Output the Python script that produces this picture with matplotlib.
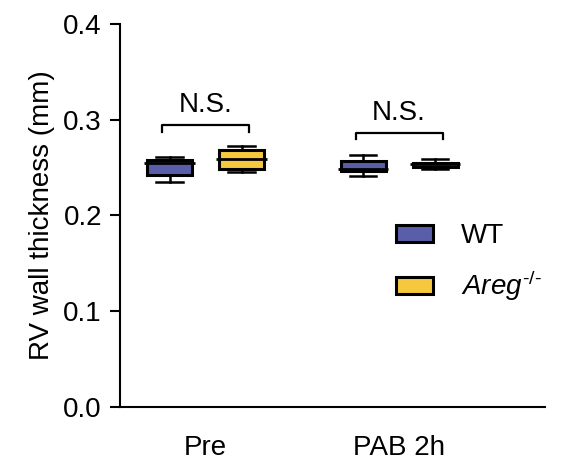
import matplotlib
matplotlib.use('Agg')
import matplotlib.pyplot as plt
from matplotlib.patches import Patch

plt.rcParams['font.family'] = ['Liberation Sans', 'DejaVu Sans']
plt.rcParams['mathtext.fontset'] = 'custom'
plt.rcParams['mathtext.rm'] = 'Liberation Sans'
plt.rcParams['mathtext.it'] = 'Liberation Sans:italic'

# box statistics (mm)
groups = ['Pre', 'PAB 2h']
genotypes = ['WT', 'Areg']
wt_med = [0.2551, 0.2482]
wt_q1 = [0.2423, 0.2468]
wt_q3 = [0.2580, 0.2569]
wt_lo = [0.2353, 0.2413]
wt_hi = [0.2608, 0.2632]
areg_med = [0.2590, 0.2538]
areg_q1 = [0.2482, 0.2507]
areg_q3 = [0.2684, 0.2550]
areg_lo = [0.2451, 0.2489]
areg_hi = [0.2729, 0.2587]
bracket_y = [0.2945, 0.2865]
sig_labels = ['N.S.', 'N.S.']

colors = ['#5a5ea8', '#f6c83e']
offset = 0.186
box_w = 0.233
fs = 20


def make_stats(med, q1, q3, lo, hi):
    return [dict(med=m, q1=a, q3=b, whislo=l, whishi=h, fliers=[])
            for m, a, b, l, h in zip(med, q1, q3, lo, hi)]


fig = plt.figure(figsize=(5.61, 4.76), dpi=100)
ax = fig.add_axes([0.2139, 0.145, 0.7576, 0.8046])

series = [make_stats(wt_med, wt_q1, wt_q3, wt_lo, wt_hi),
          make_stats(areg_med, areg_q1, areg_q3, areg_lo, areg_hi)]
for k, stats in enumerate(series):
    pos = [i + (k * 2 - 1) * offset for i in range(len(groups))]
    ax.bxp(stats, positions=pos, widths=box_w, patch_artist=True,
           showfliers=False,
           boxprops=dict(facecolor=colors[k], edgecolor='black', linewidth=2.2),
           whiskerprops=dict(color='black', linewidth=1.8),
           capprops=dict(color='black', linewidth=1.8),
           capwidths=box_w * 0.58,
           medianprops=dict(color='black', linewidth=0))
    # median line, slightly wider than the box
    for p, s in zip(pos, stats):
        ax.plot([p - box_w * 0.56, p + box_w * 0.56], [s['med'], s['med']],
                color='black', lw=2.0, solid_capstyle='butt')

# significance brackets
for i, (by, lab) in enumerate(zip(bracket_y, sig_labels)):
    x0, x1 = i - 0.225, i + 0.225
    ax.plot([x0, x0, x1, x1], [by - 0.007, by, by, by - 0.007],
            color='black', lw=1.6)
    ax.text(i, by + 0.007, lab, ha='center', va='bottom', fontsize=fs)

ax.set_xlim(-0.442, 1.754)
ax.set_ylim(0, 0.4)
ax.set_yticks([0.0, 0.1, 0.2, 0.3, 0.4])
ax.set_yticklabels(['0.0', '0.1', '0.2', '0.3', '0.4'], fontsize=fs)
ax.set_xticks(range(len(groups)))
ax.set_xticklabels(groups, fontsize=fs)
ax.tick_params(axis='x', length=0, pad=20)
ax.tick_params(axis='y', length=7, width=1.5, direction='out', pad=6)
ax.set_ylabel('RV wall thickness (mm)', fontsize=fs, labelpad=6)
for side in ['top', 'right']:
    ax.spines[side].set_visible(False)
for side in ['left', 'bottom']:
    ax.spines[side].set_linewidth(1.5)

handles = [Patch(facecolor=colors[0], edgecolor='black', linewidth=2.2),
           Patch(facecolor=colors[1], edgecolor='black', linewidth=2.2)]
leg_labels = ['WT', r'$\mathit{Areg}^{\text{-/-}}$']
ax.legend(handles, leg_labels, loc='upper left',
          bbox_to_anchor=(0.59, 0.545), frameon=False, fontsize=fs,
          handlelength=1.35, handleheight=0.55, labelspacing=0.7,
          handletextpad=1.0)

fig.savefig('out.png', dpi=100)
